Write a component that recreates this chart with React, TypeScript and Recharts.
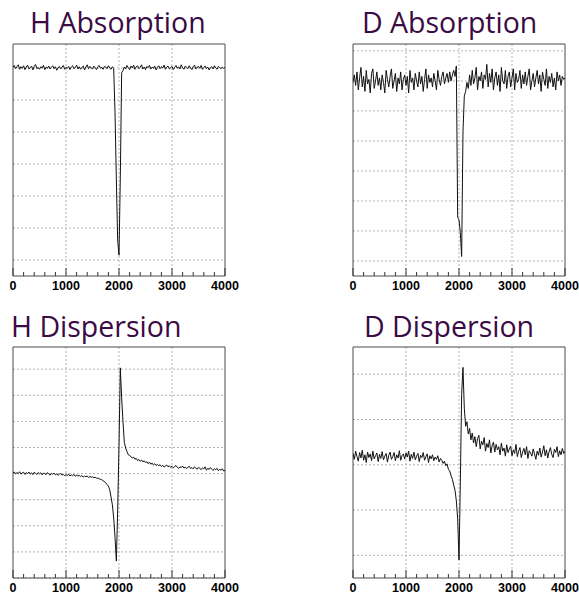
import { LineChart, Line, XAxis, YAxis, CartesianGrid, ReferenceArea } from 'recharts'

// channel number, one sample every 25 channels (0 .. 4000)
const channel = Array.from({ length: 161 }, (_, i) => i * 25)

const xTicks = [0, 200, 400, 600, 800, 1000, 1200, 1400, 1600, 1800, 2000, 2200, 2400, 2600, 2800, 3000, 3200, 3400, 3600, 3800, 4000]

const hAbsorption = [
  6.02, 6.08, 5.98, 6.05, 6.1, 5.96, 6.04, 5.99, 6.07, 5.95,
  6.03, 6.09, 5.97, 6.01, 6.06, 5.94, 6.05, 6.11, 5.98, 6.02,
  5.96, 6.04, 6.0, 6.08, 5.95, 6.03, 5.99, 6.06, 5.97, 6.02,
  6.07, 5.98, 6.04, 5.93, 6.01, 6.05, 5.97, 6.03, 6.08, 5.96,
  6.02, 5.99, 6.05, 5.95, 6.03, 6.07, 5.98, 6.01, 6.09, 5.97,
  6.04, 5.96, 6.02, 6.06, 5.94, 6.03, 6.1, 5.98, 6.05, 6.0,
  5.97, 6.06, 6.01, 5.95, 6.04, 6.08, 5.99, 6.02, 5.96, 6.05,
  6.03, 5.98, 6.07, 6.0, 5.96, 6.04, 5.98, 4.6, 2.5, 0.6,
  0.15, 2.6, 5.85, 5.92, 6.03, 5.97, 6.08, 6.01, 5.95, 6.06,
  6.0, 6.09, 5.96, 6.04, 6.07, 5.98, 6.02, 6.1, 5.97, 6.03,
  5.95, 6.05, 6.01, 6.08, 5.97, 6.03, 5.99, 6.06, 5.94, 6.02,
  6.07, 5.98, 6.04, 6.0, 6.09, 5.96, 6.03, 6.06, 5.97, 6.01,
  6.05, 5.95, 6.02, 6.08, 5.99, 6.04, 5.97, 6.1, 6.01, 5.96,
  6.06, 6.02, 5.98, 6.07, 6.0, 5.95, 6.04, 6.09, 5.97, 6.03,
  6.05, 5.99, 6.08, 5.96, 6.02, 6.06, 5.98, 6.03, 5.94, 6.01,
  6.04, 5.97, 6.07, 6.0, 5.96, 6.05, 6.01, 5.98, 6.03, 5.99,
  6.02,
]

const dAbsorption = [
  5.95, 6.2, 5.85, 6.3, 5.7, 6.1, 6.45, 5.8, 6.15, 5.65,
  6.35, 5.9, 6.05, 5.6, 6.25, 6.4, 5.75, 6.0, 6.3, 5.85,
  6.1, 5.7, 6.2, 5.95, 5.6, 6.35, 6.05, 5.8, 6.15, 6.4,
  5.75, 6.0, 6.25, 5.65, 6.1, 5.9, 6.3, 5.7, 6.05, 6.2,
  5.85, 6.15, 5.6, 6.35, 5.95, 6.1, 5.7, 6.25, 6.0, 5.8,
  6.3, 5.9, 6.15, 5.65, 6.05, 6.4, 5.75, 6.2, 5.95, 6.1,
  5.8, 6.25, 6.0, 5.7, 6.35, 6.05, 5.85, 6.15, 6.3, 5.9,
  6.1, 6.25, 5.95, 6.3, 6.0, 6.2, 6.35, 6.15, 6.5, 1.45,
  1.37, 0.95, 0.15, 4.3, 5.5, 5.65, 5.95, 5.75, 6.2, 5.85,
  6.35, 5.9, 6.1, 6.45, 5.7, 6.15, 6.0, 6.3, 5.75, 6.2,
  6.05, 6.55, 5.8, 6.25, 5.95, 6.4, 5.7, 6.1, 6.3, 5.85,
  6.2, 5.65, 6.45, 6.0, 5.9, 6.35, 5.75, 6.15, 6.3, 5.8,
  6.1, 6.4, 5.7, 6.25, 5.95, 6.05, 6.35, 5.75, 6.2, 5.9,
  6.3, 5.85, 6.15, 6.4, 5.7, 6.0, 6.25, 5.8, 6.1, 6.35,
  5.9, 6.2, 5.65, 6.3, 6.05, 5.85, 6.4, 5.75, 6.15, 5.95,
  6.25, 5.8, 6.1, 5.7, 6.3, 6.0, 6.2, 5.85, 6.15, 6.05,
  6.1,
]

const hDispersion = [
  4.02, 4.06, 3.99, 4.04, 4.0, 4.07, 3.98, 4.03, 4.05, 3.97,
  4.04, 4.0, 4.06, 3.98, 4.03, 3.96, 4.05, 4.01, 3.97, 4.04,
  3.99, 4.03, 3.95, 4.02, 4.0, 3.96, 4.04, 3.98, 3.94, 4.01,
  3.97, 4.02, 3.95, 3.99, 3.93, 3.98, 4.0, 3.94, 3.97, 3.92,
  3.96, 3.93, 3.98, 3.91, 3.95, 3.92, 3.97, 3.9, 3.94, 3.91,
  3.93, 3.89, 3.92, 3.87, 3.9, 3.88, 3.91, 3.85, 3.89, 3.86,
  3.88, 3.84, 3.86, 3.82, 3.83, 3.8, 3.78, 3.77, 3.72, 3.7,
  3.64, 3.58, 3.52, 3.38, 3.1, 2.8, 2.3, 1.55, 0.65, 2.6,
  5.1, 8.05, 6.9, 6.0, 5.2, 4.98, 4.85, 4.72, 4.7, 4.64,
  4.6, 4.63, 4.55, 4.58, 4.5, 4.54, 4.47, 4.52, 4.45, 4.49,
  4.42, 4.46, 4.38, 4.44, 4.36, 4.4, 4.33, 4.38, 4.31, 4.35,
  4.3, 4.34, 4.27, 4.32, 4.25, 4.29, 4.33, 4.26, 4.3, 4.24,
  4.28, 4.22, 4.27, 4.31, 4.24, 4.2, 4.26, 4.23, 4.29, 4.21,
  4.25, 4.19, 4.24, 4.28, 4.2, 4.23, 4.18, 4.26, 4.21, 4.17,
  4.24, 4.2, 4.15, 4.22, 4.18, 4.26, 4.13, 4.2, 4.16, 4.23,
  4.17, 4.12, 4.19, 4.15, 4.2, 4.11, 4.16, 4.13, 4.18, 4.1,
  4.12,
]

const dDispersion = [
  2.25, 2.12, 2.3, 2.18, 2.08, 2.27, 2.15, 2.32, 2.1, 2.22,
  2.05, 2.28, 2.16, 2.24, 2.09, 2.3, 2.13, 2.2, 2.26, 2.07,
  2.23, 2.14, 2.29, 2.11, 2.19, 2.25, 2.06, 2.21, 2.28, 2.12,
  2.18, 2.27, 2.09, 2.22, 2.15, 2.31, 2.1, 2.2, 2.24, 2.13,
  2.26, 2.17, 2.3, 2.08, 2.23, 2.14, 2.28, 2.11, 2.19, 2.25,
  2.07, 2.21, 2.16, 2.27, 2.1, 2.18, 2.24, 2.05, 2.2, 2.13,
  2.22, 2.09, 2.17, 2.12, 2.2, 2.06, 2.14, 2.1, 2.03, 2.08,
  1.98, 2.02, 1.9, 1.86, 1.76, 1.68, 1.55, 1.44, 1.2, 0.8,
  -0.1, 1.6, 3.55, 4.15, 3.25, 2.85, 2.95, 2.68, 2.8, 2.55,
  2.7, 2.48, 2.62, 2.4, 2.58, 2.65, 2.35, 2.52, 2.44, 2.6,
  2.3, 2.47, 2.38, 2.55, 2.26, 2.42, 2.5, 2.28, 2.45, 2.33,
  2.4, 2.22, 2.48, 2.3, 2.37, 2.19, 2.44, 2.27, 2.35, 2.41,
  2.2, 2.33, 2.25, 2.45, 2.18, 2.3, 2.38, 2.16, 2.28, 2.36,
  2.22, 2.4, 2.14, 2.31, 2.26, 2.19, 2.35, 2.24, 2.12, 2.3,
  2.21, 2.37, 2.17, 2.28, 2.42, 2.2, 2.33, 2.15, 2.29, 2.38,
  2.23, 2.16, 2.34, 2.27, 2.4, 2.18, 2.31, 2.22, 2.36, 2.25,
  2.3,
]

const titles = ['H Absorption', 'D Absorption', 'H Dispersion', 'D Dispersion']

function steps(from: number, to: number, step: number) {
  const out: number[] = []
  for (let v = from; v <= to + 1e-9; v += step) out.push(Math.round(v * 100) / 100)
  return out
}

const isMajor = (v: number) => Math.abs(v - Math.round(v)) < 1e-6

function XTick(props: any) {
  const { x, y, payload } = props
  const major = payload.value % 1000 === 0
  return (
    <g>
      <line x1={x} x2={x} y1={y} y2={y - (major ? 8 : 4)} stroke="#333" strokeWidth={1} />
      {major && (
        <text
          x={x}
          y={y + 10}
          textAnchor="middle"
          dominantBaseline="central"
          fontFamily="'Liberation Sans', Arial, sans-serif"
          fontWeight="bold"
          fontSize={12.5}
          fill="#000"
        >
          {payload.value}
        </text>
      )}
    </g>
  )
}

function YTick(props: any) {
  const { x, y, payload } = props
  const len = isMajor(payload.value) ? 13 : 7
  return <line x1={x} x2={x + len} y1={y} y2={y} stroke="#333" strokeWidth={1} />
}

type PanelProps = {
  values: number[]
  left: number
  top: number
  width: number
  height: number
  axisHeight: number
  domain: [number, number]
  minor: number
}

function Panel({ values, left, top, width, height, axisHeight, domain, minor }: PanelProps) {
  const data = channel.map((c, i) => ({ channel: c, value: values[i] }))
  const yTicks = steps(Math.ceil(domain[0] / minor) * minor, domain[1], minor)
  const majors = yTicks.filter(isMajor)
  return (
    <div style={{ position: 'absolute', left, top }}>
      <LineChart width={width} height={height} data={data} margin={{ top: 14, left: 13, right: width - 225, bottom: 0 }}>
        <CartesianGrid
          stroke="#b4b4b4"
          strokeDasharray="2 2"
          horizontalValues={majors}
          verticalValues={[1000, 2000, 3000]}
        />
        <XAxis
          dataKey="channel"
          type="number"
          domain={[0, 4000]}
          ticks={xTicks}
          interval={0}
          height={axisHeight}
          tickSize={0}
          tickMargin={0}
          tickLine={false}
          axisLine={false}
          tick={<XTick />}
          allowDataOverflow
        />
        <YAxis
          type="number"
          domain={domain}
          ticks={yTicks}
          interval={0}
          width={0}
          tickSize={0}
          tickMargin={0}
          tickLine={false}
          axisLine={false}
          tick={<YTick />}
          allowDataOverflow
        />
        <ReferenceArea
          x1={0}
          x2={4000}
          y1={domain[0]}
          y2={domain[1]}
          fill="none"
          stroke="#4a4a4a"
          strokeWidth={1}
          ifOverflow="visible"
        />
        <Line
          type="linear"
          dataKey="value"
          stroke="#111"
          strokeWidth={1}
          dot={false}
          isAnimationActive={false}
        />
      </LineChart>
    </div>
  )
}

export default function App() {
  return (
    <div style={{ position: 'absolute', left: 0, top: 0, width: 579, height: 594, overflow: 'hidden', background: '#fff' }}>
      <svg width={579} height={594} style={{ position: 'absolute', left: 0, top: 0 }}>
        {[
          { x: 30, y: 33 },
          { x: 362, y: 33 },
          { x: 11, y: 337 },
          { x: 364, y: 337 },
        ].map((p, i) => (
          <text key={titles[i]} x={p.x} y={p.y} fontFamily="'Open Sans', 'Noto Sans', sans-serif" fontSize={28.5} fill="#3a0b44">
            {titles[i]}
          </text>
        ))}
      </svg>
      <Panel values={hAbsorption} left={0} top={30} width={250} height={270} axisHeight={24} domain={[-0.5, 6.75]} minor={0.2} />
      <Panel values={dAbsorption} left={340} top={30} width={239} height={270} axisHeight={24} domain={[-0.5, 7.23]} minor={0.2} />
      <Panel values={hDispersion} left={0} top={333} width={250} height={261} axisHeight={16} domain={[0, 8.85]} minor={0.25} />
      <Panel values={dDispersion} left={340} top={333} width={239} height={261} axisHeight={16} domain={[-0.5, 4.6]} minor={0.25} />
    </div>
  )
}
